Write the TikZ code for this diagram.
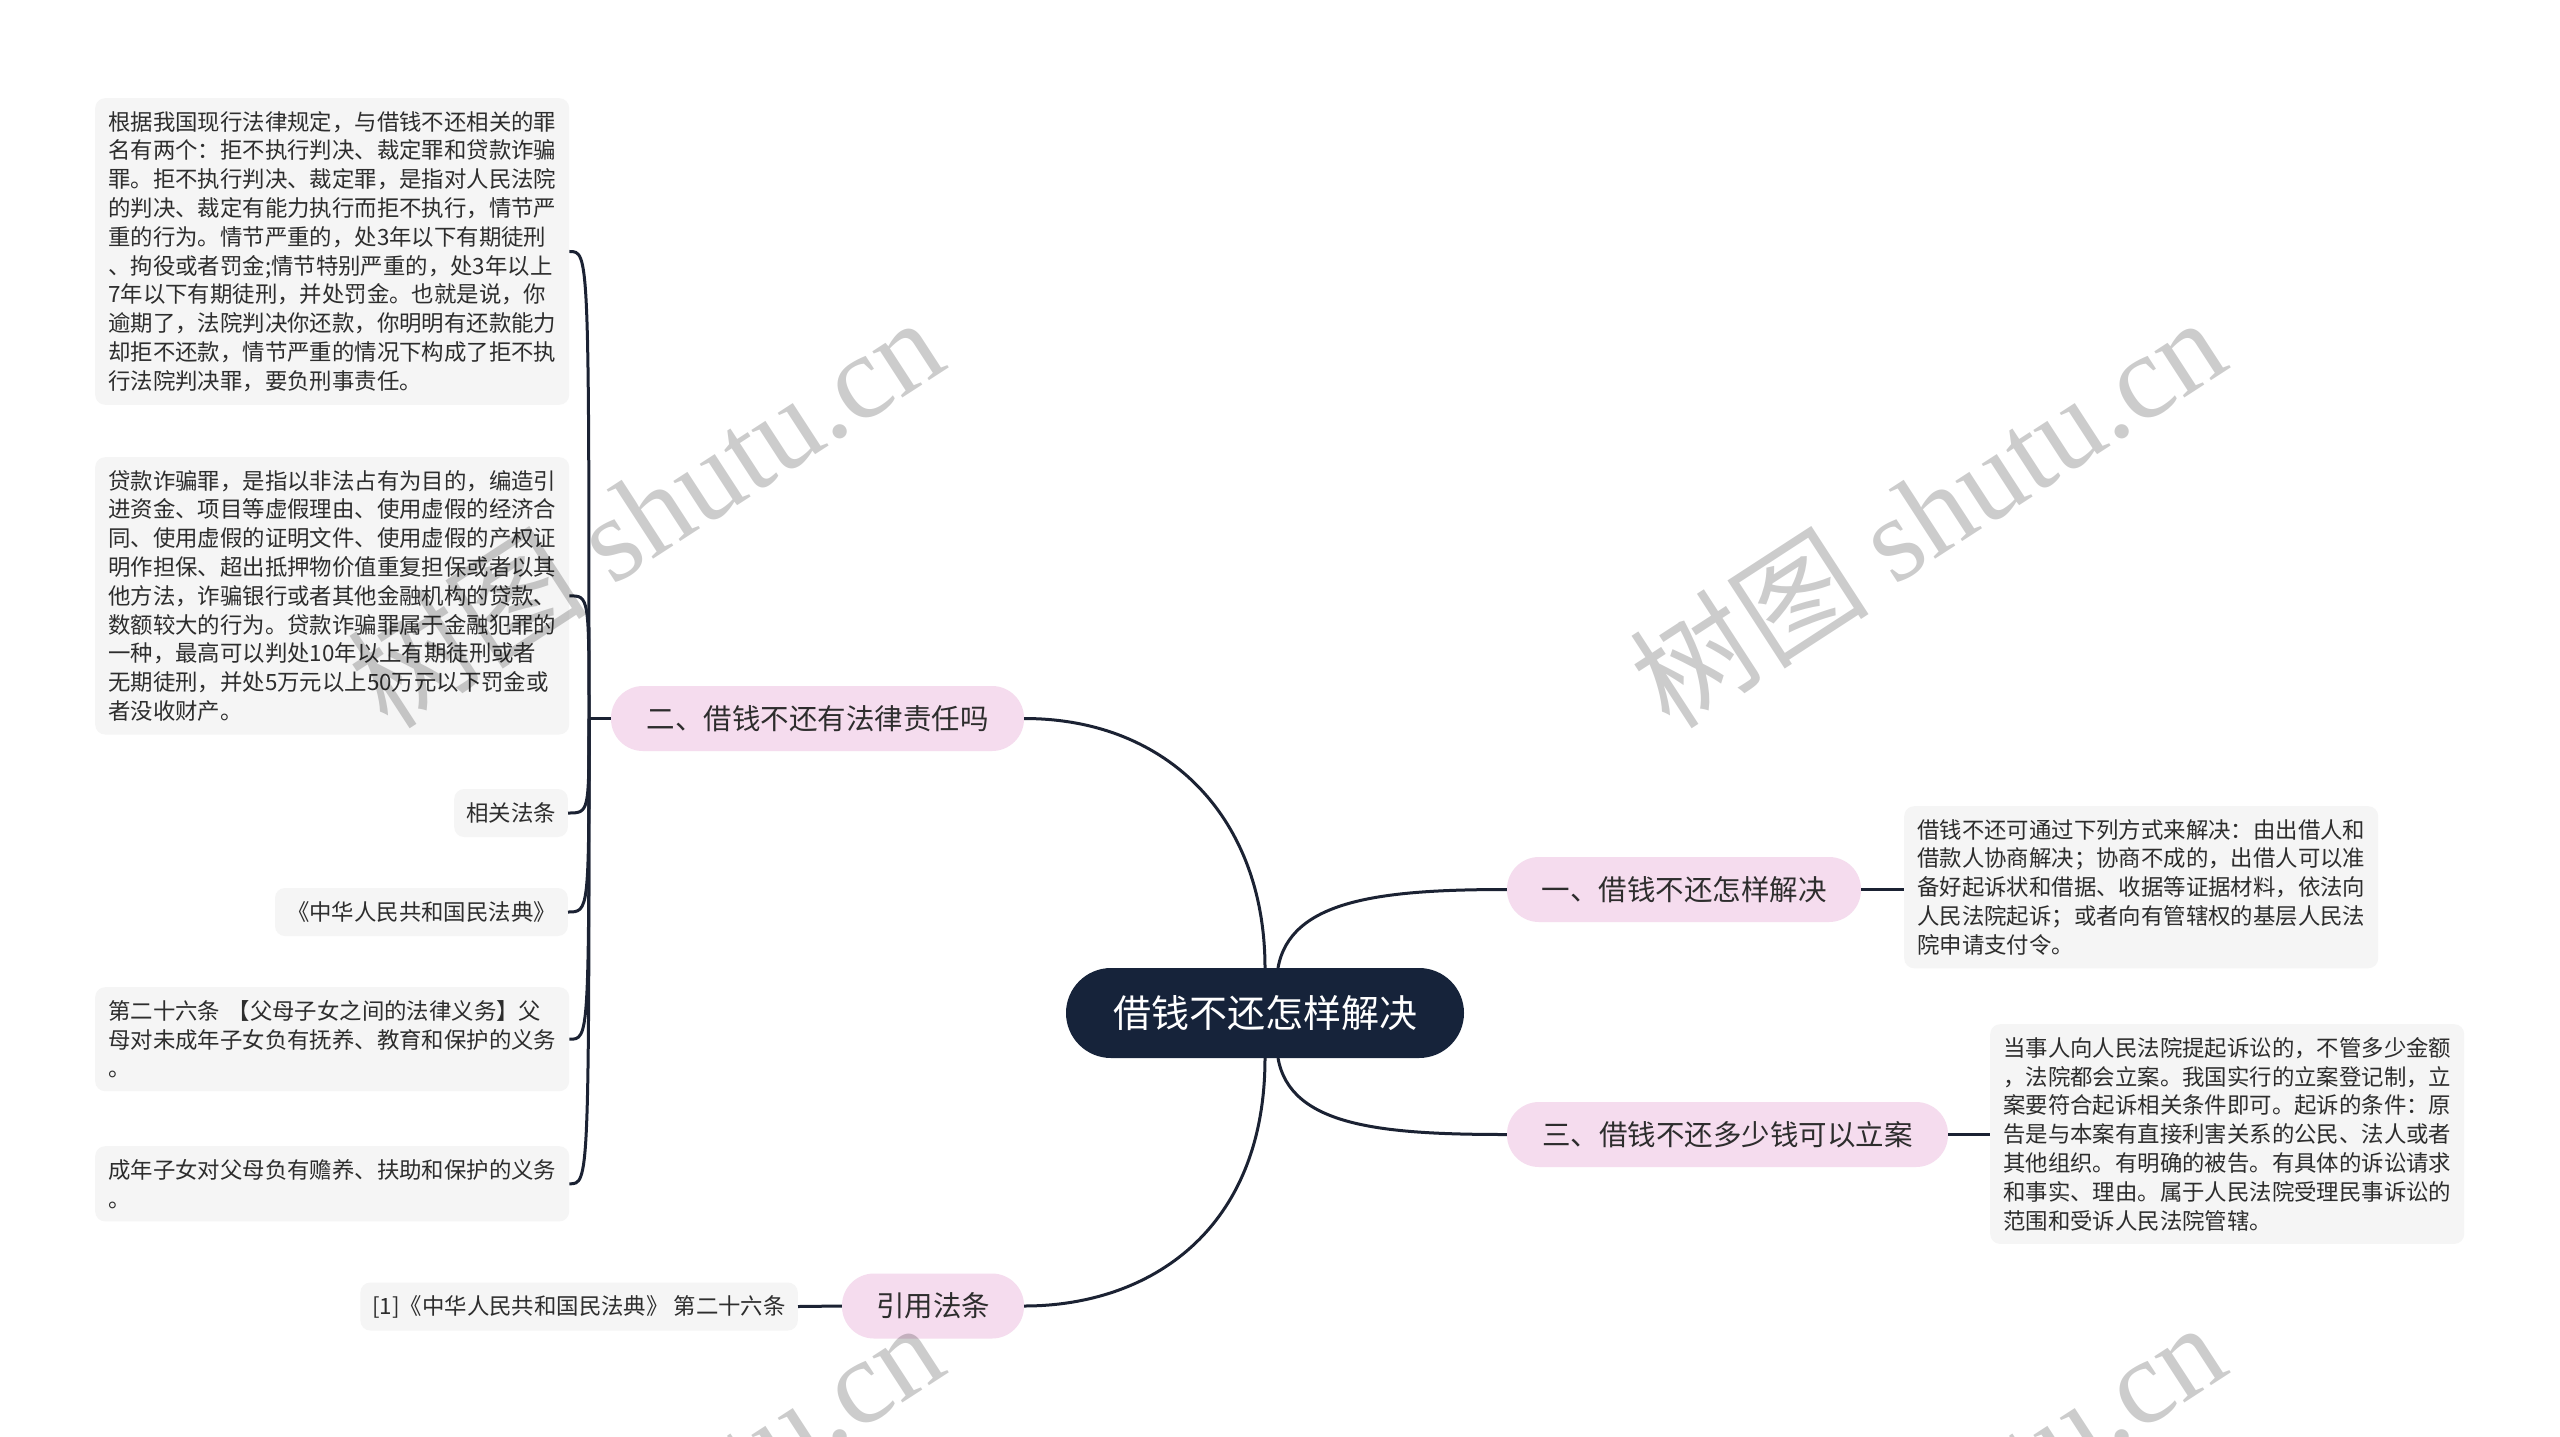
\documentclass[tikz,border=0pt]{standalone}
\usepackage{fontspec}
\setmainfont{Noto Sans CJK SC}
\newfontfamily\wmserif{Liberation Serif}
\definecolor{navy}{RGB}{22,35,58}
\definecolor{linecol}{RGB}{27,34,51}
\definecolor{pinkfill}{RGB}{245,220,238}
\definecolor{leafgray}{RGB}{245,245,245}
\definecolor{textdark}{RGB}{45,45,45}
\begin{document}
\begin{tikzpicture}[x=1pt,y=-1pt,
  central/.style={fill=navy,text=white,rounded corners=45pt,minimum width=398pt,minimum height=90pt,inner sep=0pt,font=\fontsize{38}{40}\selectfont},
  branch/.style={fill=pinkfill,text=textdark,rounded corners=32pt,minimum height=65pt,inner sep=0pt,font=\fontsize{28.5}{30}\selectfont},
  leaf/.style={fill=leafgray,text=textdark,rounded corners=10pt,align=left,text width=448pt,inner xsep=13pt,inner ysep=13pt,font=\fontsize{22.4}{28.8}\selectfont},
  leafs/.style={fill=leafgray,text=textdark,rounded corners=10pt,inner xsep=12pt,inner ysep=0pt,minimum height=48pt,font=\fontsize{22.4}{28.8}\selectfont},
  conn/.style={draw=linecol,line width=3pt},
  wm/.style={rotate=33,text=black,text opacity=0.2,inner sep=0pt,font=\fontsize{120}{120}\selectfont}]
\useasboundingbox (0,0) rectangle (2560,1436);
\fill[white] (0,0) rectangle (2560,1436);

% main nodes
\node[central] (C) at (1265,1013) {借钱不还怎样解决};
\node[branch,minimum width=413pt] (B2) at (817.5,718.5) {二、借钱不还有法律责任吗};
\node[branch,minimum width=354pt] (B1) at (1684,889.5) {一、借钱不还怎样解决};
\node[branch,minimum width=441pt] (B3) at (1727.5,1134.5) {三、借钱不还多少钱可以立案};
\node[branch,minimum width=182pt] (B4) at (933,1306) {引用法条};

% leaves
\node[leaf,anchor=north west] (L1) at (95,98) {根据我国现行法律规定，与借钱不还相关的罪\\名有两个：拒不执行判决、裁定罪和贷款诈骗\\罪。拒不执行判决、裁定罪，是指对人民法院\\的判决、裁定有能力执行而拒不执行，情节严\\重的行为。情节严重的，处3年以下有期徒刑\\、拘役或者罚金;情节特别严重的，处3年以上\\7年以下有期徒刑，并处罚金。也就是说，你\\逾期了，法院判决你还款，你明明有还款能力\\却拒不还款，情节严重的情况下构成了拒不执\\行法院判决罪，要负刑事责任。};
\node[leaf,anchor=north west] (L2) at (95,457) {贷款诈骗罪，是指以非法占有为目的，编造引\\进资金、项目等虚假理由、使用虚假的经济合\\同、使用虚假的证明文件、使用虚假的产权证\\明作担保、超出抵押物价值重复担保或者以其\\他方法，诈骗银行或者其他金融机构的贷款、\\数额较大的行为。贷款诈骗罪属于金融犯罪的\\一种，最高可以判处10年以上有期徒刑或者\\无期徒刑，并处5万元以上50万元以下罚金或\\者没收财产。};
\node[leafs,anchor=east] (L3) at (568,813) {相关法条};
\node[leafs,anchor=east] (L4) at (568,912) {《中华人民共和国民法典》};
\node[leaf,anchor=north west] (L5) at (95,987) {第二十六条 【父母子女之间的法律义务】父\\母对未成年子女负有抚养、教育和保护的义务\\。};
\node[leaf,anchor=north west] (L6) at (95,1146) {成年子女对父母负有赡养、扶助和保护的义务\\。};
\node[leaf,anchor=north west] (R1) at (1904,806) {借钱不还可通过下列方式来解决：由出借人和\\借款人协商解决；协商不成的，出借人可以准\\备好起诉状和借据、收据等证据材料，依法向\\人民法院起诉；或者向有管辖权的基层人民法\\院申请支付令。};
\node[leaf,anchor=north west] (R3) at (1990,1024) {当事人向人民法院提起诉讼的，不管多少金额\\，法院都会立案。我国实行的立案登记制，立\\案要符合起诉相关条件即可。起诉的条件：原\\告是与本案有直接利害关系的公民、法人或者\\其他组织。有明确的被告。有具体的诉讼请求\\和事实、理由。属于人民法院受理民事诉讼的\\范围和受诉人民法院管辖。};
\node[leafs,anchor=east] (R4) at (798,1306.5) {[1]《中华人民共和国民法典》 第二十六条};

% connectors
\coordinate (J2) at (589,718.5);
\coordinate (Ct) at (1278,968);
\coordinate (Cb) at (1278,1058);
\draw[conn] (B2.west) -- (J2);
\foreach \n in {L1,L2,L3,L4,L5,L6}
  \draw[conn] (J2) .. controls (J2 |- \n.east) and (J2 |- \n.east) .. (\n.east);
\draw[conn] (B2.east) .. controls (1170,718.5) and (1265,820) .. (C.north);
\draw[conn] (Ct) .. controls (1290,900) and (1380,889.5) .. (B1.west);
\draw[conn] (Cb) .. controls (1290,1126) and (1380,1134.5) .. (B3.west);
\draw[conn] (C.south) .. controls (1265,1230) and (1150,1306) .. (B4.east);
\draw[conn] (B1.east) -- (B1.east -| R1.west);
\draw[conn] (B3.east) -- (B3.east -| R3.west);
\draw[conn] (B4.west) -- (R4.east);

% watermarks
\begin{scope}
\clip (0,0) rectangle (2560,1436);
\node[wm] (wm1) at (645,511) {树图 {\wmserif shutu.cn}};
\node[wm] (wm2) at (1927,511) {树图 {\wmserif shutu.cn}};
\node[wm] (wm3) at (645,1516) {树图 {\wmserif shutu.cn}};
\node[wm] (wm4) at (1927,1516) {树图 {\wmserif shutu.cn}};
\end{scope}
\end{tikzpicture}
\end{document}
